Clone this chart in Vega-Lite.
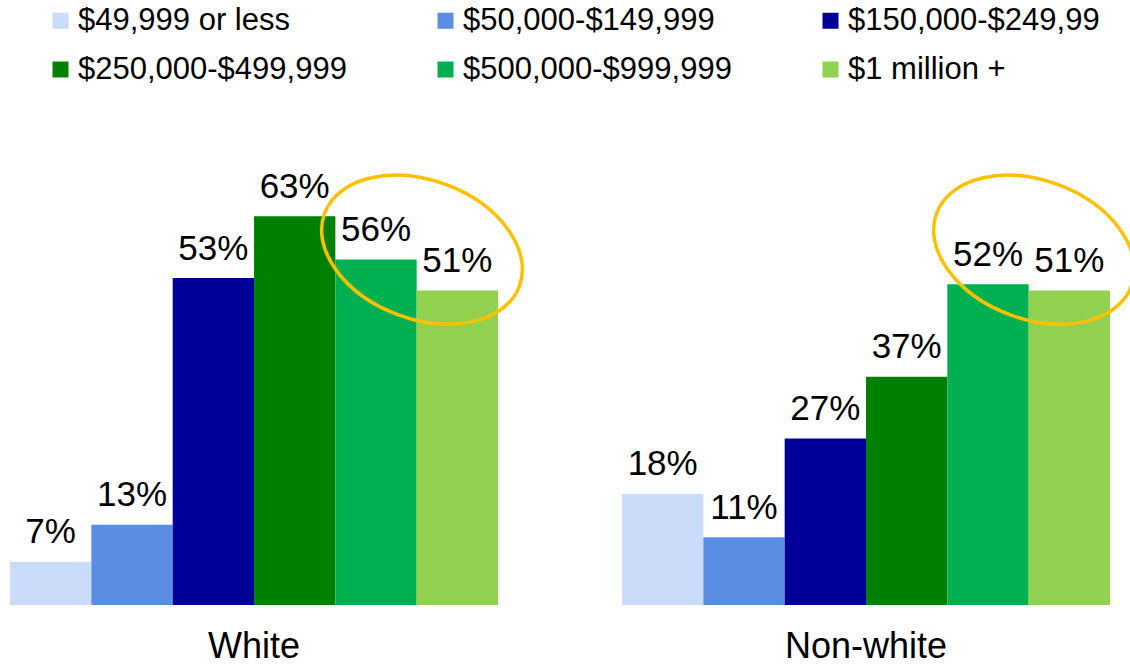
{
  "$schema": "https://vega.github.io/schema/vega-lite/v6.json",
  "width": 1120,
  "height": 475,
  "autosize": {"type": "none"},
  "padding": {"top": 130, "left": 0, "right": 10, "bottom": 61},
  "config": {"view": {"stroke": null}, "font": "Liberation Sans", "background": "#ffffff"},
  "data": {
    "values": [
      {"group": "White", "income": "$49,999 or less", "share": 0.07},
      {"group": "White", "income": "$50,000-$149,999", "share": 0.13},
      {"group": "White", "income": "$150,000-$249,99", "share": 0.53},
      {"group": "White", "income": "$250,000-$499,999", "share": 0.63},
      {"group": "White", "income": "$500,000-$999,999", "share": 0.56},
      {"group": "White", "income": "$1 million +", "share": 0.51},
      {"group": "Non-white", "income": "$49,999 or less", "share": 0.18},
      {"group": "Non-white", "income": "$50,000-$149,999", "share": 0.11},
      {"group": "Non-white", "income": "$150,000-$249,99", "share": 0.27},
      {"group": "Non-white", "income": "$250,000-$499,999", "share": 0.37},
      {"group": "Non-white", "income": "$500,000-$999,999", "share": 0.52},
      {"group": "Non-white", "income": "$1 million +", "share": 0.51}
    ]
  },
  "encoding": {
    "x": {
      "field": "group",
      "type": "nominal",
      "sort": ["White", "Non-white"],
      "scale": {"paddingInner": 0.2026, "paddingOuter": 0.01634},
      "axis": {
        "title": null,
        "labelAngle": 0,
        "domain": false,
        "ticks": false,
        "labelPadding": 24,
        "labelFontSize": 36,
        "labelFont": "Liberation Sans",
        "labelColor": "#000000"
      }
    }
  },
  "layer": [
    {
      "mark": {"type": "bar"},
      "encoding": {
        "xOffset": {
          "field": "income",
          "type": "nominal",
          "sort": ["$49,999 or less", "$50,000-$149,999", "$150,000-$249,99", "$250,000-$499,999", "$500,000-$999,999", "$1 million +"],
          "scale": {"paddingInner": 0, "paddingOuter": 0}
        },
        "y": {"field": "share", "type": "quantitative", "scale": {"domain": [0, 0.77], "nice": false, "zero": true}, "axis": null},
        "color": {
          "field": "income",
          "type": "nominal",
          "sort": ["$49,999 or less", "$50,000-$149,999", "$150,000-$249,99", "$250,000-$499,999", "$500,000-$999,999", "$1 million +"],
          "scale": {
            "domain": ["$49,999 or less", "$50,000-$149,999", "$150,000-$249,99", "$250,000-$499,999", "$500,000-$999,999", "$1 million +"],
            "range": ["#CADCFA", "#5B8DE5", "#000099", "#008000", "#00B050", "#92D050"]
          },
          "legend": {
            "orient": "none",
            "legendX": 45,
            "legendY": -125,
            "direction": "horizontal",
            "columns": 3,
            "title": null,
            "symbolType": "square",
            "symbolSize": 256,
            "symbolStrokeWidth": 0,
            "labelFontSize": 31,
            "labelFont": "Liberation Sans",
            "labelColor": "#000000",
            "labelOffset": 2,
            "columnPadding": 83,
            "rowPadding": 17,
            "gridAlign": "all",
            "labelLimit": 400,
            "padding": 0
          }
        }
      }
    },
    {
      "mark": {"type": "text", "baseline": "alphabetic", "dy": -18.5, "fontSize": 35, "color": "#000000", "font": "Liberation Sans"},
      "encoding": {
        "xOffset": {
          "field": "income",
          "type": "nominal",
          "sort": ["$49,999 or less", "$50,000-$149,999", "$150,000-$249,99", "$250,000-$499,999", "$500,000-$999,999", "$1 million +"]
        },
        "y": {"field": "share", "type": "quantitative"},
        "text": {"field": "share", "type": "quantitative", "format": ".0%"}
      }
    },
    {
      "transform": [{"filter": "datum.income === '$1 million +'"}],
      "mark": {
        "type": "point",
        "shape": "M1,0 C1,0.368 0.552,0.667 0,0.667 C-0.552,0.667 -1,0.368 -1,0 C-1,-0.368 -0.552,-0.667 0,-0.667 C0.552,-0.667 1,-0.368 1,0 Z",
        "size": 43264,
        "angle": 20.5,
        "filled": false,
        "fill": null,
        "stroke": "#FFC000",
        "strokeWidth": 3.5,
        "opacity": 1,
        "xOffset": 168
      },
      "encoding": {
        "y": {"datum": 0.576, "type": "quantitative"}
      }
    }
  ]
}
